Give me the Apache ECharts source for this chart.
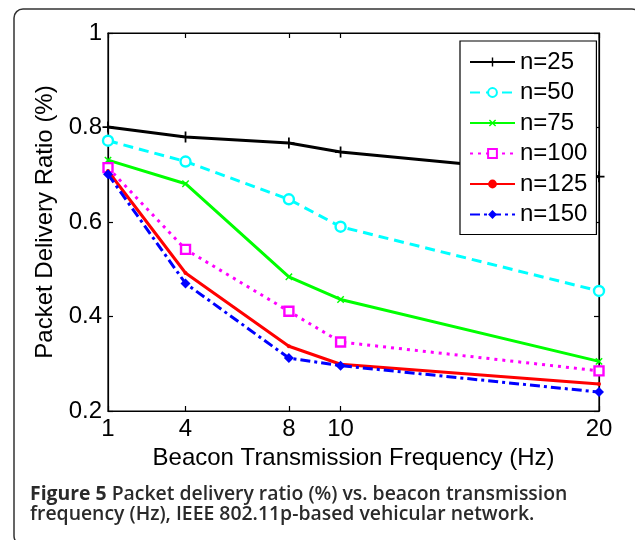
<!DOCTYPE html>
<html>
<head>
<meta charset="utf-8">
<script src="https://cdn.jsdelivr.net/npm/echarts@6/dist/echarts.min.js"></script>
<style>
  html, body { margin: 0; padding: 0; background: #fff; }
  #chart { width: 635px; height: 540px; }
</style>
</head>
<body>
<div id="chart"></div>
<script>
// Beacon transmission frequencies (Hz)
const frequencies = [1, 4, 8, 10, 20];
const xTickValues = [1, 4, 8, 10, 20];
const yTickValues = [0.2, 0.4, 0.6, 0.8, 1];

// Packet delivery ratio per vehicle density
const seriesNames = ['n=25', 'n=50', 'n=75', 'n=100', 'n=125', 'n=150'];
const pdrN25  = [0.801, 0.780, 0.767, 0.748, 0.696];
const pdrN50  = [0.772, 0.728, 0.648, 0.590, 0.454];
const pdrN75  = [0.731, 0.681, 0.484, 0.436, 0.305];
const pdrN100 = [0.715, 0.542, 0.411, 0.346, 0.285];
const pdrN125 = [0.708, 0.492, 0.337, 0.299, 0.257];
const pdrN150 = [0.701, 0.470, 0.312, 0.296, 0.240];

const captionBold = 'Figure 5';
const captionLine1 = ' Packet delivery ratio (%) vs. beacon transmission';
const captionLine2 = 'frequency (Hz), IEEE 802.11p-based vehicular network.';

const FONT = 'Liberation Sans, Arial, sans-serif';
const FS = 24;
const plusPath = 'path://M4.2,0H5.8V4.2H10V5.8H5.8V10H4.2V5.8H0V4.2H4.2Z';

function pairs(values) {
  return frequencies.map((f, i) => [f, values[i]]);
}

function makeSeries(name, values, color, lineType, symbol, symbolSize, filled, extra) {
  return Object.assign({
    name: name,
    type: 'line',
    data: pairs(values),
    xAxisIndex: 0,
    yAxisIndex: 0,
    showSymbol: true,
    symbol: symbol,
    symbolSize: symbolSize,
    animation: false,
    lineStyle: { color: color, width: 3, type: lineType },
    itemStyle: filled
      ? { color: color, borderColor: color, borderWidth: 0 }
      : { color: '#ffffff', borderColor: color, borderWidth: 2.4 },
    z: 3
  }, extra || {});
}

const chart = echarts.init(document.getElementById('chart'), null, { renderer: 'canvas' });

const axisCommon = {
  axisLine: { show: true, lineStyle: { color: '#000', width: 1.2 } },
  splitLine: { show: false }
};

chart.setOption({
  backgroundColor: '#ffffff',
  animation: false,
  grid: {
    left: 108, top: 33, right: 36, bottom: 129,
    show: true, borderColor: '#000', borderWidth: 1.2, backgroundColor: 'transparent'
  },
  legend: {
    orient: 'vertical',
    left: 460, top: 41,
    width: 134,
    padding: [9, 9, 8, 9],
    itemGap: 6.5,
    itemWidth: 45,
    itemHeight: 11,
    backgroundColor: '#fff',
    borderColor: '#000',
    borderWidth: 1.2,
    borderRadius: 0,
    textStyle: { fontFamily: FONT, fontSize: FS, color: '#000' },
    data: seriesNames
  },
  xAxis: [
    Object.assign({}, axisCommon, {
      type: 'value', position: 'bottom',
      min: 1, max: 20, interval: 1,
      name: 'Beacon Transmission Frequency (Hz)',
      nameLocation: 'middle', nameGap: 33,
      nameTextStyle: { fontFamily: FONT, fontSize: FS, color: '#000' },
      axisTick: { show: true, inside: true, length: 5, customValues: xTickValues, lineStyle: { color: '#000', width: 1.2 } },
      axisLabel: { show: true, margin: 6, customValues: xTickValues, fontFamily: FONT, fontSize: FS, color: '#000' }
    }),
    Object.assign({}, axisCommon, {
      type: 'value', position: 'top',
      min: 1, max: 20, interval: 1,
      axisTick: { show: true, inside: true, length: 5, customValues: xTickValues, lineStyle: { color: '#000', width: 1.2 } },
      axisLabel: { show: false }
    })
  ],
  yAxis: [
    Object.assign({}, axisCommon, {
      type: 'value', position: 'left',
      min: 0.2, max: 1, interval: 0.2,
      name: 'Packet Delivery Ratio (%)',
      nameLocation: 'middle', nameGap: 46,
      nameTextStyle: { fontFamily: FONT, fontSize: FS, color: '#000' },
      axisTick: { show: true, inside: true, length: 5, customValues: yTickValues, lineStyle: { color: '#000', width: 1.2 } },
      axisLabel: {
        show: true, margin: 6, customValues: yTickValues,
        fontFamily: FONT, fontSize: FS, color: '#000',
        formatter: v => String(Math.round(v * 10) / 10)
      }
    }),
    Object.assign({}, axisCommon, {
      type: 'value', position: 'right',
      min: 0.2, max: 1, interval: 0.2,
      axisTick: { show: true, inside: true, length: 5, customValues: yTickValues, lineStyle: { color: '#000', width: 1.2 } },
      axisLabel: { show: false }
    })
  ],
  series: [
    makeSeries(seriesNames[0], pdrN25, '#000000', 'solid', plusPath, 11, true),
    makeSeries(seriesNames[1], pdrN50, '#00ffff', [10, 6], 'circle', 10, false),
    makeSeries(seriesNames[2], pdrN75, '#00ff00', 'solid', plusPath, 9, true, { symbolRotate: 45 }),
    makeSeries(seriesNames[3], pdrN100, '#ff00ff', [3, 5], 'rect', 9, false),
    makeSeries(seriesNames[4], pdrN125, '#ff0000', 'solid', 'circle', 4, true),
    makeSeries(seriesNames[5], pdrN150, '#0000ff', [10, 4, 3, 4], 'diamond', 10, true)
  ],
  graphic: [
    {
      type: 'rect', silent: true, z: 0,
      shape: { x: 14, y: 9, width: 627, height: 536, r: 9 },
      style: { fill: 'none', stroke: '#333', lineWidth: 1.5 }
    },
    {
      type: 'text', left: 30, top: 485, z: 10,
      style: {
        text: '{b|' + captionBold + '}{r|' + captionLine1 + '}\n{r|' + captionLine2 + '}',
        rich: {
          b: { fontFamily: 'Open Sans', fontWeight: 700, fontSize: 19.4, fill: '#2a2a2a', lineHeight: 19.5 },
          r: { fontFamily: 'Open Sans', fontWeight: 600, fontSize: 19.4, fill: '#2a2a2a', lineHeight: 19.5 }
        }
      }
    }
  ]
});
</script>
</body>
</html>
